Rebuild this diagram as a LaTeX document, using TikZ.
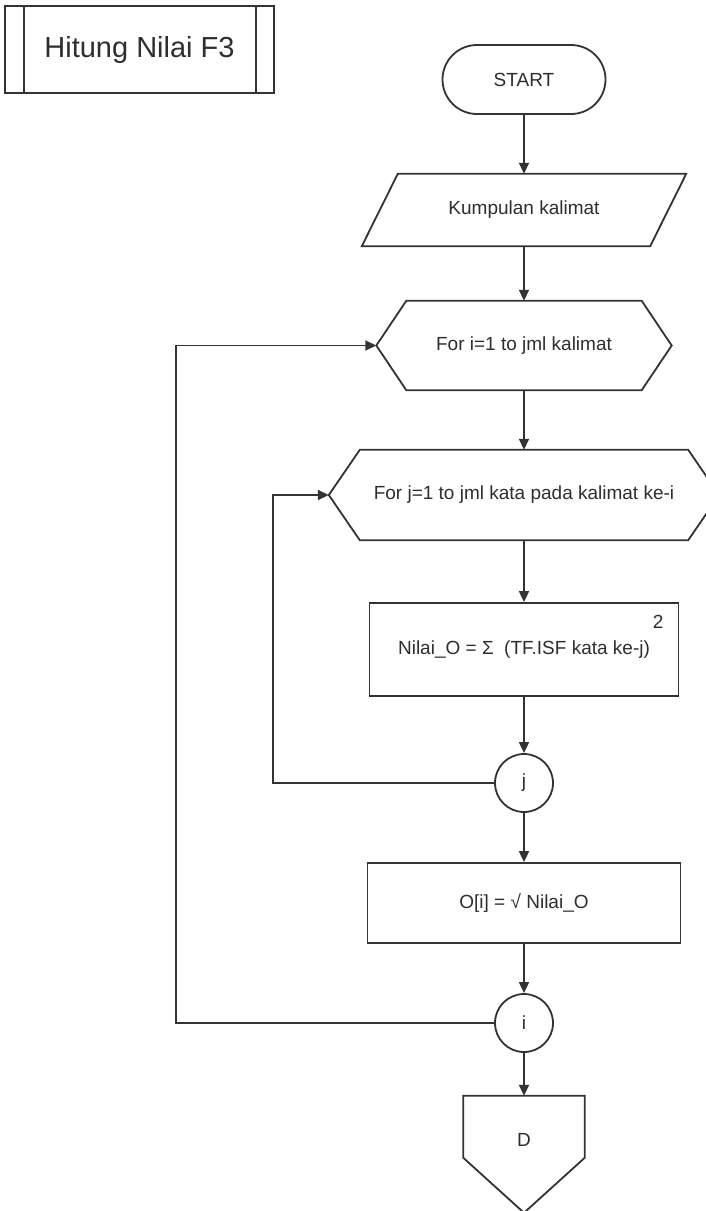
\documentclass[tikz,border=0pt]{standalone}
\usepackage{fontspec}
\setmainfont{Liberation Sans}
\usetikzlibrary{arrows.meta,shapes.misc}
\definecolor{linec}{HTML}{333333}
\definecolor{txtc}{HTML}{2E2E2E}
\newcommand\bodyfont{\fontsize{19pt}{22pt}\selectfont}
\newcommand\titlefont{\fontsize{29pt}{33pt}\selectfont}

\begin{document}
\begin{tikzpicture}[x=1pt,y=-1pt,
  ln/.style={draw=linec, line width=1.8pt, line join=miter},
  flow/.style={draw=linec, line width=1.8pt, -{Triangle[length=11pt,width=10pt]}},
  box/.style={ln, rectangle, inner sep=0pt, text=txtc, font=\bodyfont},
  ghost/.style={draw=none, rectangle, inner sep=0pt, text=txtc, font=\bodyfont},
  conn/.style={ln, circle, inner sep=0pt, minimum size=58pt, text=txtc, font=\bodyfont}]
\useasboundingbox (0,0) rectangle (705,1211);
\fill[white] (0,0) rectangle (705,1211);

% predefined-process header
\node[box, font=\titlefont, minimum width=269pt, minimum height=87pt] (title) at (139.5,49.5) {Hitung Nilai F3};
\draw[ln] ([xshift=20pt]title.north west) -- ([xshift=20pt]title.south west);
\draw[ln] ([xshift=-19pt]title.north east) -- ([xshift=-19pt]title.south east);

% terminal
\node[box, rounded rectangle, minimum width=163pt, minimum height=69pt] (start) at (524,79.5) {START};

% input (parallelogram)
\node[ghost, minimum width=324pt, minimum height=72pt] (input) at (524,210) {Kumpulan kalimat};
\draw[ln] ([xshift=36pt]input.north west) -- (input.north east)
  -- ([xshift=-36pt]input.south east) -- (input.south west) -- cycle;

% outer loop (hexagon)
\node[ghost, minimum width=295pt, minimum height=89pt] (fori) at (524,345.5) {For i=1 to jml kalimat};
\draw[ln] (fori.west) -- ([xshift=30pt]fori.north west) -- ([xshift=-30pt]fori.north east)
  -- (fori.east) -- ([xshift=-30pt]fori.south east) -- ([xshift=30pt]fori.south west) -- cycle;

% inner loop (hexagon)
\node[ghost, minimum width=390pt, minimum height=90pt] (forj) at (524,495) {For j=1 to jml kata pada kalimat ke-i};
\draw[ln] (forj.west) -- ([xshift=31pt]forj.north west) -- ([xshift=-31pt]forj.north east)
  -- (forj.east) -- ([xshift=-31pt]forj.south east) -- ([xshift=31pt]forj.south west) -- cycle;

% process boxes
\node[box, minimum width=309pt, minimum height=93pt] (nilai) at (524,649.5)
  {Nilai\_O = Σ\hspace{0.55em}(TF.ISF kata ke-j)\rlap{\hspace{3pt}\smash{\raisebox{26pt}{2}}}};
\node[conn] (cj) at (524,783) {j};
\node[box, minimum width=313pt, minimum height=80pt] (oi) at (524,903) {O[i] = √ Nilai\_O};
\node[conn] (ci) at (524,1023) {i};

% off-page connector
\node[ghost, minimum width=121pt, minimum height=88pt] (off) at (524,1140) {D};
\draw[ln] (off.north west) -- (off.north east) -- ([yshift=-62pt]off.north east)
  -- ([yshift=-117pt]off.north) -- ([yshift=-62pt]off.north west) -- cycle;

% main flow
\draw[flow] (start.south) -- (input.north);
\draw[flow] (input.south) -- (fori.north);
\draw[flow] (fori.south) -- (forj.north);
\draw[flow] (forj.south) -- (nilai.north);
\draw[flow] (nilai.south) -- (cj.north);
\draw[flow] (cj.south) -- (oi.north);
\draw[flow] (oi.south) -- (ci.north);
\draw[flow] (ci.south) -- (off.north);

% loop-back lines
\draw[flow] (cj.west) -- ++(-221,0) |- (forj.west);
\draw[flow] (ci.west) -- ++(-318,0) |- (fori.west);
\end{tikzpicture}
\end{document}
